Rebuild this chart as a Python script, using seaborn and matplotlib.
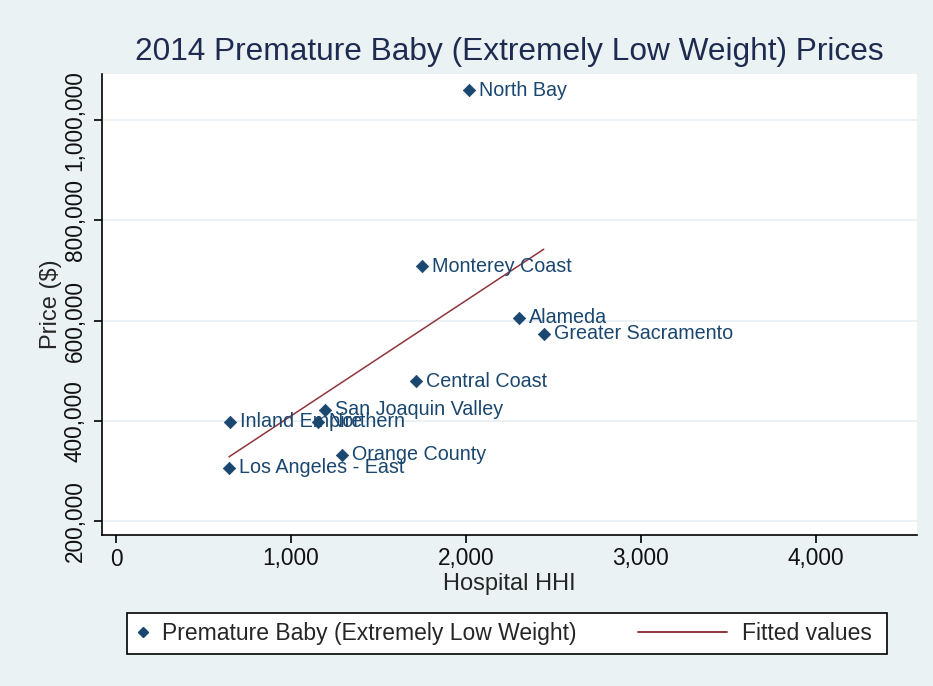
import numpy as np
import pandas as pd
import matplotlib.pyplot as plt
import seaborn as sns
from matplotlib.lines import Line2D
from matplotlib.patches import Rectangle

# data
regions = ["North Bay", "Monterey Coast", "Alameda", "Greater Sacramento",
           "Central Coast", "San Joaquin Valley", "Inland Empire", "Northern",
           "Orange County", "Los Angeles - East"]
hhi = [2017, 1749, 2303, 2446, 1714, 1194, 651, 1154, 1291, 646]
price = [1059700, 708500, 606000, 574000, 478600, 421900, 398000, 398000, 332300, 306500]

x_ticks = [0, 1000, 2000, 3000, 4000]
y_ticks = [200000, 400000, 600000, 800000, 1000000]

df = pd.DataFrame({"region": regions, "hhi": hhi, "price": price})

bg = "#EAF2F3"
navy = "#1A476F"
maroon = "#90353B"
W, H = 933, 686

sns.set_style("white")
plt.rcParams["font.family"] = ["Liberation Sans", "DejaVu Sans"]

fig = plt.figure(figsize=(9.33, 6.86), dpi=100, facecolor=bg)
ax = fig.add_axes([102 / W, 1 - 535 / H, (917 - 102) / W, (535 - 74) / H])
ax.set_facecolor("white")

sns.regplot(data=df, x="hhi", y="price", ci=None, scatter=False, ax=ax,
            line_kws={"color": maroon, "lw": 1.1})
sns.scatterplot(data=df, x="hhi", y="price", marker="D", s=40, color=navy,
                edgecolor=navy, ax=ax, zorder=3)

for r, xv, yv in zip(regions, hhi, price):
    ax.annotate(r, (xv, yv), xytext=(7.5, 0), textcoords="offset points",
                va="center", ha="left", fontsize=14.2, color=navy)

ax.set_xlim(-80, 4580)
ax.set_ylim(172000, 1092000)
ax.set_xticks(x_ticks)
ax.set_yticks(y_ticks)
ax.set_xticklabels([f"{v:,}" for v in x_ticks], fontsize=16.3)
ax.set_yticklabels([f"{v:,}" for v in y_ticks], fontsize=16.3, rotation=90, va="center")
ax.grid(axis="y", color="#E6EEF1", lw=1.2)
ax.set_axisbelow(True)

for s in ["top", "right"]:
    ax.spines[s].set_visible(False)
for s in ["left", "bottom"]:
    ax.spines[s].set_color("black")
    ax.spines[s].set_linewidth(1.2)
ax.tick_params(axis="both", direction="out", length=6, width=1.2, color="black",
               labelcolor="#111111", left=True, bottom=True)
ax.tick_params(axis="x", pad=3)
ax.tick_params(axis="y", pad=5)

ax.set_xlabel("Hospital HHI", fontsize=17, labelpad=2)
ax.set_ylabel("Price ($)", fontsize=17, labelpad=1)
ax.set_title("2014 Premature Baby (Extremely Low Weight) Prices", fontsize=22.8,
             color="#1E2A4F", pad=10)

# legend box below the plot
fig.patches.append(Rectangle((127 / W, 1 - 654 / H), (887 - 127) / W, (654 - 613) / H,
                             transform=fig.transFigure, facecolor="white",
                             edgecolor="black", lw=1.2, zorder=1))
ly = 1 - 633.5 / H
leg1 = fig.legend([Line2D([], [], marker="D", ls="none", color=navy, markersize=5)],
                  ["Premature Baby (Extremely Low Weight)"], loc="center left",
                  bbox_to_anchor=(131.5 / W, ly), fontsize=16.5, frameon=False,
                  handlelength=1.0, handletextpad=0.33, borderpad=0, borderaxespad=0)
leg2 = fig.legend([Line2D([], [], color=maroon, lw=1.4)], ["Fitted values"],
                  loc="center left", bbox_to_anchor=(638 / W, ly), fontsize=16.5,
                  frameon=False, handlelength=3.89, handletextpad=0.65,
                  borderpad=0, borderaxespad=0)
for lg in (leg1, leg2):
    lg.set_zorder(2)

fig.savefig("out.png", dpi=100, facecolor=bg)
